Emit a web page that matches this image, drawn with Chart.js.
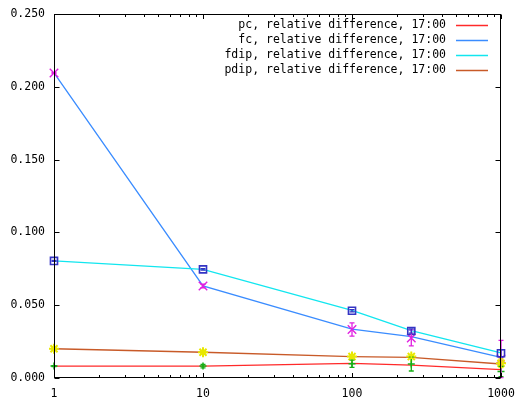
<!DOCTYPE html>
<html>
<head>
<meta charset="utf-8">
<script src="https://cdn.jsdelivr.net/npm/chart.js@4/dist/chart.umd.min.js"></script>
<style>
  html, body { margin: 0; padding: 0; background: #ffffff; }
  #wrap { width: 516px; height: 401px; }
</style>
</head>
<body>
<div id="wrap"><canvas id="c" width="516" height="401"></canvas></div>
<script>
// ---- data ----
const xValues = [1, 10, 100, 250, 1000];
const seriesLabels = [
  'pc, relative difference, 17:00',
  'fc, relative difference, 17:00',
  'fdip, relative difference, 17:00',
  'pdip, relative difference, 17:00'
];
// line values
const pcLine   = [0.0082, 0.0082, 0.0101, 0.0089, 0.0058];
const fcLine   = [0.2095, 0.0632, 0.0335, 0.0284, 0.0142];
const fdipLine = [0.0804, 0.0746, 0.0465, 0.0325, 0.0172];
const pdipLine = [0.0201, 0.0177, 0.0147, 0.0142, 0.0096];
// point values with error bars
const pcPts   = [0.0082, 0.0082, 0.0098, 0.0096, 0.0045];
const pcErr   = [0.0003, 0.0012, 0.0025, 0.0048, 0.0035];
const fcPts   = [0.2095, 0.0632, 0.0333, 0.0275, 0.0130];
const fcErr   = [0.0003, 0.0012, 0.0045, 0.0055, 0.0128];
const fdipPts = [0.0804, 0.0746, 0.0462, 0.0323, 0.0170];
const fdipErr = [0.0003, 0.0005, 0.0008, 0.0015, 0.0025];
const pdipPts = [0.0201, 0.0177, 0.0147, 0.0147, 0.0101];
const pdipErr = [0.0005, 0.0008, 0.0010, 0.0012, 0.0030];
// axis ticks
const yTickValues = [0, 0.05, 0.10, 0.15, 0.20, 0.25];
const xMajorTicks = [1, 10, 100, 1000];

const FONT = '"DejaVu Sans Mono", "Liberation Mono", monospace';

function toXY(vals) { return xValues.map((x, i) => ({ x: x, y: vals[i] })); }

const lineColors  = ['#ff2a2a', '#3a8cff', '#12e6ef', '#c85a28'];
const pointColors = ['#16b016', '#e020e0', '#3434c4', '#e8e800'];
const lineVals  = [pcLine, fcLine, fdipLine, pdipLine];
const ptVals    = [pcPts, fcPts, fdipPts, pdipPts];
const errVals   = [pcErr, fcErr, fdipErr, pdipErr];
const ptStyles  = ['cross', 'crossRot', 'rect', 'star'];
const ptRadius  = [3.5, 6, 5, 5];
const ptWidths  = [1.5, 1.4, 1.6, 2];

const datasets = [];
lineVals.forEach((v, i) => {
  datasets.push({
    label: seriesLabels[i],
    data: toXY(v),
    borderColor: lineColors[i],
    backgroundColor: lineColors[i],
    borderWidth: 1.3,
    pointRadius: 0,
    tension: 0,
    clip: false,
    order: 10 - i,
    isLine: true
  });
});
ptVals.forEach((v, i) => {
  datasets.push({
    label: seriesLabels[i] + ' points',
    data: toXY(v),
    errors: errVals[i],
    showLine: false,
    pointStyle: ptStyles[i],
    pointRadius: ptRadius[i],
    pointBorderColor: pointColors[i],
    pointBackgroundColor: 'rgba(0,0,0,0)',
    pointBorderWidth: ptWidths[i],
    borderColor: pointColors[i],
    clip: false,
    order: 4 - i,
    isLine: false
  });
});

const framePlugin = {
  id: 'frame',
  afterDatasetsDraw(chart) {
    const ctx = chart.ctx;
    const a = chart.chartArea;
    const xs = chart.scales.x, ys = chart.scales.y;
    ctx.save();
    // error bars
    chart.data.datasets.forEach((ds) => {
      if (ds.isLine || !ds.errors) return;
      ctx.strokeStyle = ds.borderColor;
      ctx.lineWidth = 1.3;
      ds.data.forEach((p, k) => {
        const e = ds.errors[k];
        const px = xs.getPixelForValue(p.x);
        const y1 = ys.getPixelForValue(p.y - e);
        const y2 = ys.getPixelForValue(p.y + e);
        ctx.beginPath();
        ctx.moveTo(px, y1); ctx.lineTo(px, y2);
        ctx.moveTo(px - 2.5, y1); ctx.lineTo(px + 2.5, y1);
        ctx.moveTo(px - 2.5, y2); ctx.lineTo(px + 2.5, y2);
        ctx.stroke();
      });
    });
    // frame
    ctx.strokeStyle = '#000000';
    ctx.lineWidth = 1;
    const L = Math.round(a.left) + 0.5, R = Math.round(a.right) - 0.5;
    const T = Math.round(a.top) + 0.5, B = Math.round(a.bottom) - 0.5;
    ctx.strokeRect(L, T, R - L, B - T);
    // x ticks (inward, top and bottom)
    ctx.beginPath();
    for (let d = 1; d <= 1000; d *= 10) {
      for (let m = 1; m <= 9; m++) {
        const v = d * m;
        if (v > 1000) break;
        const major = (m === 1);
        const len = major ? 4.5 : 2.5;
        const px = Math.round(xs.getPixelForValue(v)) + 0.5;
        ctx.moveTo(px, B); ctx.lineTo(px, B - len);
        ctx.moveTo(px, T); ctx.lineTo(px, T + len);
      }
    }
    // y ticks (inward, left and right)
    yTickValues.forEach(v => {
      const py = Math.round(ys.getPixelForValue(v)) + 0.5;
      ctx.moveTo(L, py); ctx.lineTo(L + 5, py);
      ctx.moveTo(R, py); ctx.lineTo(R - 5, py);
    });
    ctx.stroke();
    ctx.restore();
  }
};

const legendPlugin = {
  id: 'gnuLegend',
  afterDraw(chart) {
    const ctx = chart.ctx;
    const a = chart.chartArea;
    ctx.save();
    ctx.font = '11.5px ' + FONT;
    ctx.textAlign = 'right';
    ctx.textBaseline = 'middle';
    const textRight = a.right - 55;
    const lineX1 = a.right - 45, lineX2 = a.right - 13;
    let y = a.top + 11;
    chart.data.datasets.forEach(ds => {
      if (!ds.isLine) return;
      ctx.fillStyle = '#000000';
      ctx.fillText(ds.label, textRight, y);
      ctx.strokeStyle = ds.borderColor;
      ctx.lineWidth = 1.5;
      ctx.beginPath();
      ctx.moveTo(lineX1, Math.round(y) + 0.5);
      ctx.lineTo(lineX2, Math.round(y) + 0.5);
      ctx.stroke();
      y += 15.1;
    });
    ctx.restore();
  }
};

new Chart(document.getElementById('c'), {
  type: 'line',
  data: { datasets: datasets },
  options: {
    responsive: false,
    animation: false,
    events: [],
    layout: { padding: { top: 14, right: 15, left: 0, bottom: 0 } },
    plugins: { legend: { display: false }, tooltip: { enabled: false }, title: { display: false } },
    scales: {
      x: {
        type: 'logarithmic',
        min: 1, max: 1000,
        grid: { display: false, drawTicks: false },
        border: { display: false },
        ticks: {
          autoSkip: false, maxRotation: 0, minRotation: 0,
          padding: 9,
          color: '#000000',
          font: { family: FONT, size: 11.5 },
          callback: (v) => xMajorTicks.includes(v) ? String(v) : ''
        },
        afterBuildTicks: (s) => {
          const t = [];
          for (let d = 1; d <= 1000; d *= 10) {
            for (let m = 1; m <= 9; m++) { if (d * m <= 1000) t.push({ value: d * m }); }
          }
          s.ticks = t;
        },
        afterFit: (s) => { s.height = 23; s.paddingLeft = 0; s.paddingRight = 0; }
      },
      y: {
        type: 'linear',
        min: 0, max: 0.25,
        grid: { display: false, drawTicks: false },
        border: { display: false },
        ticks: {
          padding: 9,
          color: '#000000',
          font: { family: FONT, size: 11.5 },
          callback: (v) => Number(v).toFixed(3)
        },
        afterBuildTicks: (s) => { s.ticks = yTickValues.map(v => ({ value: v })); },
        afterFit: (s) => { s.width = 54; s.paddingTop = 0; s.paddingBottom = 0; }
      }
    }
  },
  plugins: [framePlugin, legendPlugin]
});
</script>
</body>
</html>
